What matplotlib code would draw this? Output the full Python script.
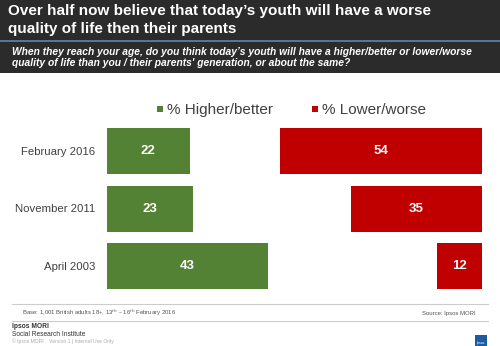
import numpy as np
import matplotlib.pyplot as plt
from matplotlib.patches import Rectangle
from matplotlib.lines import Line2D

plt.rcParams['font.family'] = ['Liberation Sans', 'DejaVu Sans']

periods = ["February 2016", "November 2011", "April 2003"]
higher = [22, 23, 43]
lower = [54, 35, 12]
series_names = ["% Higher/better", "% Lower/worse"]

green = "#548235"
red = "#C00000"
W, H = 500, 346

fig = plt.figure(figsize=(5, 3.46), dpi=100)

def fx(px):
    return px / W

def fy(py):
    return 1 - py / H

# header block
fig.patches.append(Rectangle((0, fy(73)), 1, 73 / H, transform=fig.transFigure,
                             facecolor="#2b2b2b", edgecolor="none", zorder=0))
fig.lines.append(Line2D([0, 1], [fy(41), fy(41)], transform=fig.transFigure,
                        color="#5b87b5", lw=1.2))
fig.text(fx(8), fy(10.5), "Over half now believe that today\u2019s youth will have a worse",
         color="white", fontsize=11, fontweight="bold", va="center")
fig.text(fx(8), fy(29), "quality of life then their parents",
         color="white", fontsize=11, fontweight="bold", va="center")
fig.text(fx(12), fy(52), "When they reach your age, do you think today\u2019s youth will have a higher/better or lower/worse",
         color="white", fontsize=7.35, fontweight="bold", style="italic", va="center")
fig.text(fx(12), fy(63.5), "quality of life than you / their parents' generation, or about the same?",
         color="white", fontsize=7.35, fontweight="bold", style="italic", va="center")

# chart area: x 107..482 px = 0..100
ax = fig.add_axes([fx(107), fy(294.75), (482 - 107) / W, 172.5 / H])
y = np.arange(len(periods))
b1 = ax.barh(y, higher, height=0.8, color=green, label=series_names[0])
b2 = ax.barh(y, lower, left=100 - np.array(lower), height=0.8, color=red, label=series_names[1])
for bars, vals in [(b1, higher), (b2, lower)]:
    for r, v in zip(bars, vals):
        ax.text(r.get_x() + r.get_width() / 2, r.get_y() + r.get_height() / 2, str(v),
                color="white", fontsize=9.5, fontweight="bold", ha="center", va="center")

ax.set_xlim(0, 100)
ax.set_ylim(2.5, -0.5)
ax.set_yticks(y)
ax.set_yticklabels(periods, fontsize=8.2, color="#404040")
ax.tick_params(axis="y", length=0, pad=8.4)
ax.set_xticks([])
for s in ax.spines.values():
    s.set_visible(False)

ax.legend(loc="center", bbox_to_anchor=(0.492, 1.07), ncol=2, frameon=False,
          fontsize=11, handlelength=0.4, handleheight=0.22, handletextpad=0.3,
          columnspacing=2.5, labelcolor="#404040", borderpad=0)

# footer
fig.lines.append(Line2D([fx(12), fx(488)], [fy(304), fy(304)], transform=fig.transFigure,
                        color="#cccccc", lw=0.8))
fig.lines.append(Line2D([fx(12), fx(488)], [fy(321), fy(321)], transform=fig.transFigure,
                        color="#cccccc", lw=0.8))
fig.text(fx(22), fy(313), "Base: 1,001 British adults 18+, 13$^{th}$ \u2013 16$^{th}$ February 2016",
         fontsize=4.3, color="#555555", va="center")
fig.text(fx(476), fy(313), "Source: Ipsos MORI", fontsize=4.3, color="#555555",
         va="center", ha="right")
fig.text(fx(12), fy(327), "Ipsos MORI", fontsize=4.8, fontweight="bold", color="#333333", va="center")
fig.text(fx(12), fy(334), "Social Research Institute", fontsize=4.8, color="#333333", va="center")
fig.text(fx(12), fy(341), "\u00a9 Ipsos MORI    Version 1 | Internal Use Only", fontsize=3.6,
         color="#aaaaaa", va="center")
fig.patches.append(Rectangle((fx(475), fy(347)), 12 / W, 12 / H, transform=fig.transFigure,
                             facecolor="#1f5a9e", edgecolor="none"))
fig.text(fx(481), fy(343), "Ipsos", fontsize=2.5, color="white", ha="center", va="center")

fig.savefig("out.png", dpi=100)
